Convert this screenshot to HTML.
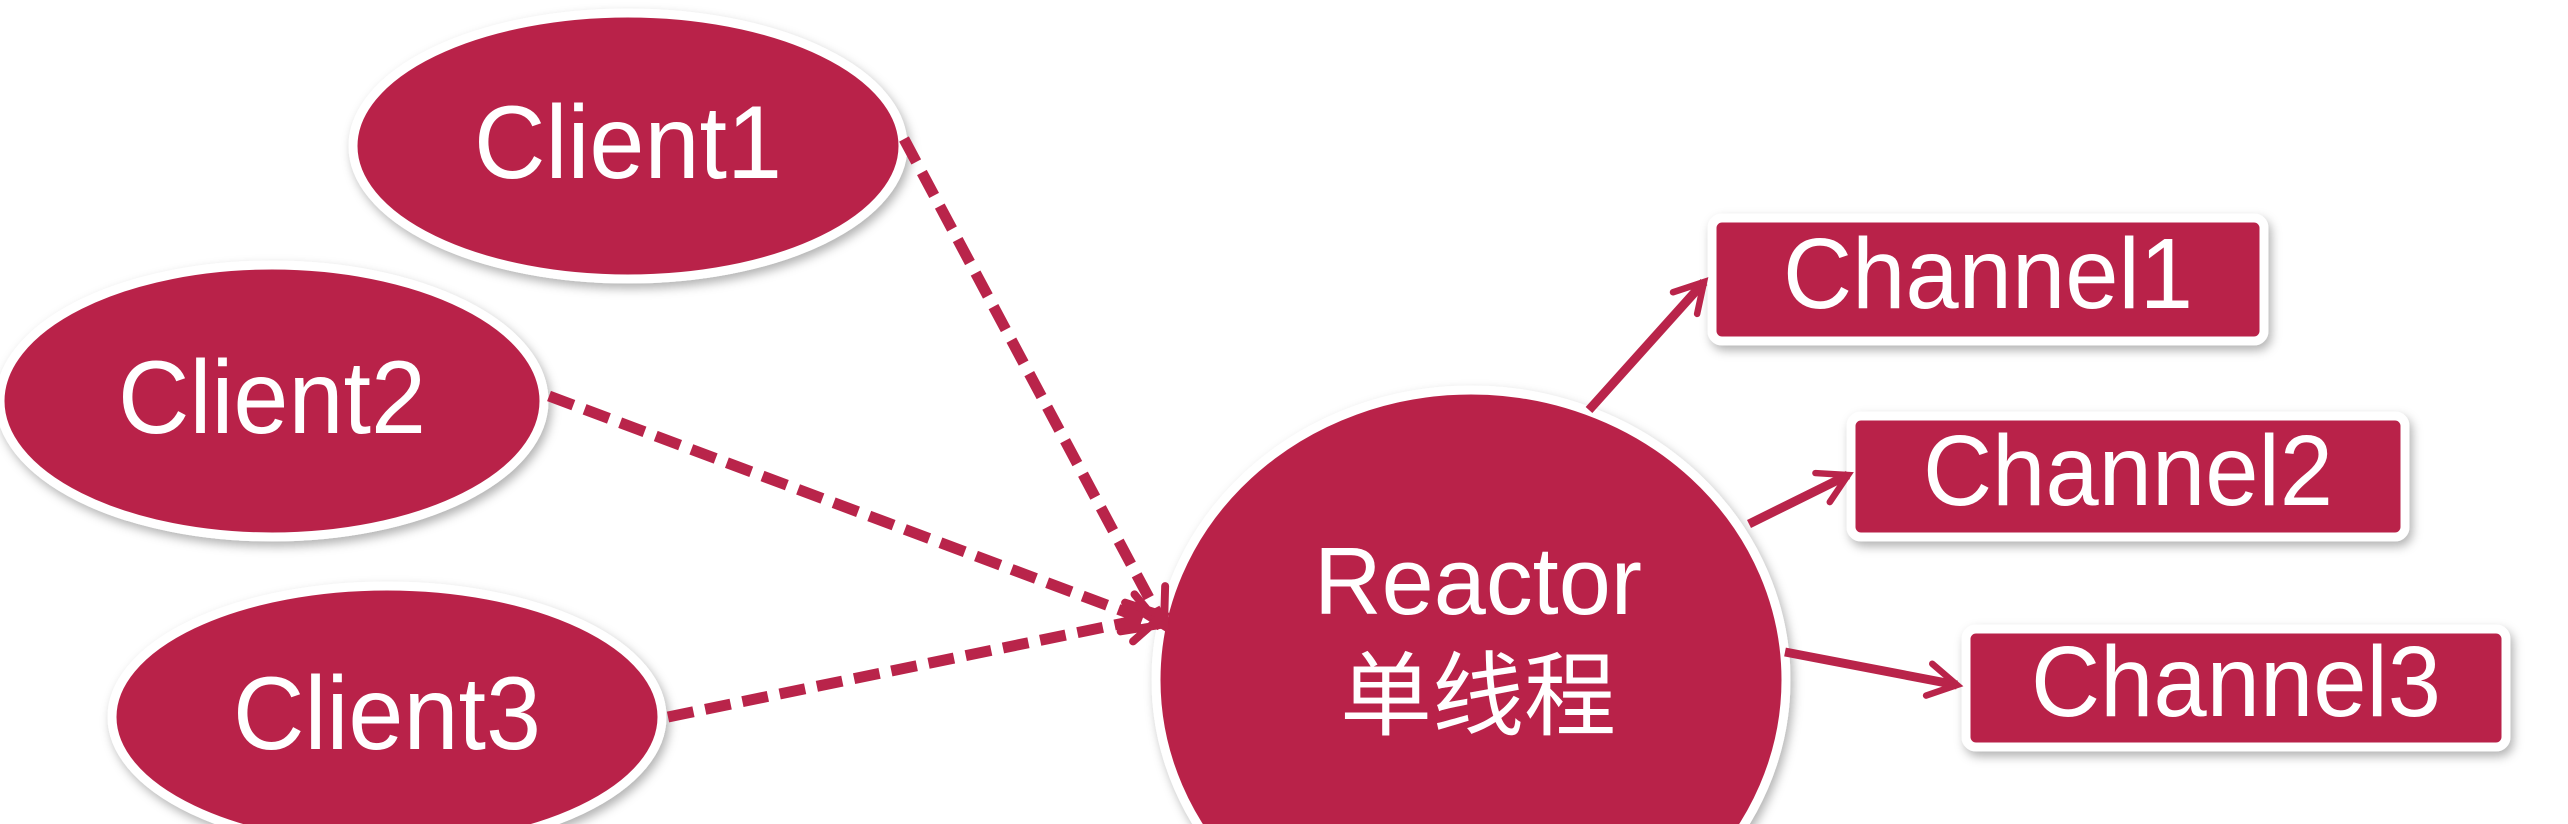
<!DOCTYPE html>
<html><head><meta charset="utf-8"><style>
html,body{margin:0;padding:0;background:#fff;width:2568px;height:824px;overflow:hidden}
svg{display:block}
</style></head><body>
<svg width="2568" height="824" viewBox="0 0 2568 824" xmlns="http://www.w3.org/2000/svg">
<defs>
<filter id="sh" x="-20%" y="-20%" width="140%" height="140%"><feDropShadow dx="3" dy="5" stdDeviation="5" flood-color="#000" flood-opacity="0.3"/></filter>
<marker id="ah" viewBox="0 0 10 10" refX="8" refY="5" markerWidth="4.5" markerHeight="4.5" orient="auto" markerUnits="strokeWidth"><path d="M1,1 L8,5 L1,9" fill="none" stroke="#b9244a" stroke-width="1.6" stroke-linecap="round"/></marker>
<clipPath id="cp"><rect x="0" y="0" width="2568" height="824"/></clipPath>
</defs>
<g clip-path="url(#cp)">
<g fill="#b9244a" stroke="#fff" stroke-width="9" filter="url(#sh)">
<ellipse cx="628" cy="146" rx="275" ry="133"/>
<ellipse cx="272" cy="401" rx="272" ry="136"/>
<ellipse cx="387" cy="717" rx="275" ry="131"/>
<ellipse cx="1471" cy="680" rx="315" ry="290"/>
<rect x="1712" y="218" width="552" height="123" rx="10"/>
<rect x="1851" y="416" width="554" height="121" rx="10"/>
<rect x="1966" y="629" width="540" height="118" rx="10"/>
</g>
<g stroke="#b9244a" stroke-width="11" fill="none" stroke-dasharray="26,12" marker-end="url(#ah)">
<line x1="904" y1="139" x2="1164" y2="626"/>
<line x1="549" y1="396" x2="1160" y2="625"/>
<line x1="668" y1="717" x2="1163" y2="615"/>
</g>
<g stroke="#b9244a" stroke-width="9" fill="none" marker-end="url(#ah)">
<line x1="1589" y1="410" x2="1704" y2="282"/>
<line x1="1749" y1="524" x2="1848" y2="475"/>
<line x1="1785" y1="652" x2="1957" y2="685"/>
</g>
<g fill="#fff" font-family="'Liberation Sans','Noto Sans CJK SC',sans-serif" text-anchor="middle">
<text x="628" y="178" font-size="104" textLength="308" lengthAdjust="spacingAndGlyphs">Client1</text>
<text x="272" y="433" font-size="104" textLength="308" lengthAdjust="spacingAndGlyphs">Client2</text>
<text x="387" y="749" font-size="104" textLength="308" lengthAdjust="spacingAndGlyphs">Client3</text>
<text x="1478" y="614" font-size="96" textLength="328" lengthAdjust="spacingAndGlyphs">Reactor</text>
<text x="1478" y="728" font-size="92">单线程</text>
<text x="1988" y="308" font-size="100" textLength="410" lengthAdjust="spacingAndGlyphs">Channel1</text>
<text x="2128" y="505" font-size="100" textLength="410" lengthAdjust="spacingAndGlyphs">Channel2</text>
<text x="2236" y="716" font-size="100" textLength="410" lengthAdjust="spacingAndGlyphs">Channel3</text>
</g>
</g>
</svg>
</body></html>
